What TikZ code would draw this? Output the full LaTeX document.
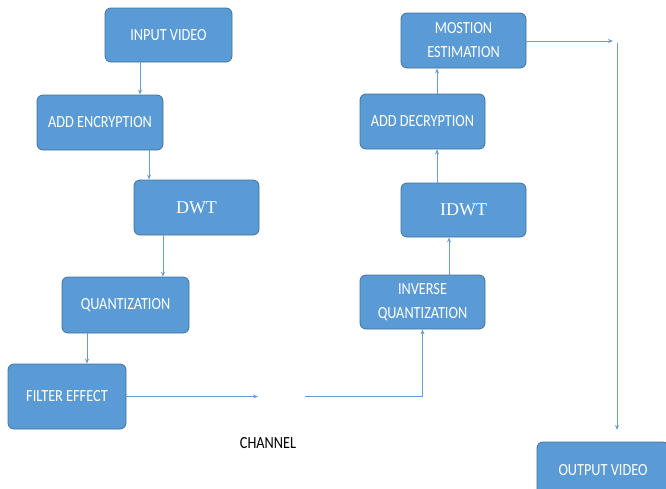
\documentclass[tikz,border=0pt]{standalone}
\usepackage{fontspec}
\setmainfont{Carlito}
\newfontfamily\serifblock{Liberation Serif}
\usetikzlibrary{arrows.meta}
\definecolor{boxfill}{RGB}{91,155,213}
\definecolor{boxline}{RGB}{65,113,156}
\definecolor{arrowcol}{RGB}{110,155,200}
\newcommand{\sq}[1]{\scalebox{0.84}[1]{#1}}
\tikzset{
  block/.style={draw=boxline, line width=0.8pt, fill=boxfill, rounded corners=6pt,
    text=white, align=center, inner sep=0pt, font=\fontsize{17}{24}\selectfont},
  flow/.style={draw=arrowcol, line width=0.9pt, -{Stealth[length=5pt,width=4pt]}},
  plain/.style={draw=arrowcol, line width=0.9pt}
}
\begin{document}
\begin{tikzpicture}[x=1pt,y=-1pt]
\useasboundingbox (0,0) rectangle (666,488);
\node[block, minimum width=127, minimum height=54] (invid) at (168.5,35) {\sq{INPUT VIDEO}};
\node[block, minimum width=126, minimum height=55] (addenc) at (100,122.5) {\sq{ADD ENCRYPTION}};
\node[block, minimum width=125, minimum height=55, font=\serifblock\fontsize{18}{20}\selectfont] (dwt) at (196.5,207.5) {DWT};
\node[block, minimum width=127, minimum height=56] (quant) at (125.5,305) {\sq{QUANTIZATION}};
\node[block, minimum width=118, minimum height=65] (filter) at (67,396.5) {\sq{FILTER EFFECT}};
\node[block, minimum width=125, minimum height=54] (invq) at (422.5,302) {\sq{INVERSE}\\\sq{QUANTIZATION}};
\node[block, minimum width=125, minimum height=54, font=\serifblock\fontsize{18}{20}\selectfont] (idwt) at (463.5,210) {IDWT};
\node[block, minimum width=125, minimum height=55] (adddec) at (422.5,121.5) {\sq{ADD DECRYPTION}};
\node[block, minimum width=125, minimum height=55] (mest) at (463.5,40.5) {\sq{MOSTION}\\\sq{ESTIMATION}};
\node[block, minimum width=132, minimum height=56] (outvid) at (603,470) {\sq{OUTPUT VIDEO}};
\node[font=\fontsize{17}{20}\selectfont, text=black] (channel) at (268,443) {\sq{CHANNEL}};

\coordinate (chin) at (258,396.5);
\coordinate (chout) at (305,396.5);
\coordinate (rtop) at (613,41);
\coordinate (vtop) at (617,43);
\coordinate (vbot) at (617,430);

\draw[flow] (invid.south -| 140,0) -- (addenc.north -| 140,0);
\draw[flow] (addenc.south -| 149,0) -- (dwt.north -| 149,0);
\draw[flow] (dwt.south -| 163,0) -- (quant.north -| 163,0);
\draw[flow] (quant.south -| 87,0) -- (filter.north -| 87,0);
\draw[flow] (filter.east) -- (chin);
\draw[flow] (chout) -| (invq.south);
\draw[flow] (invq.north -| 449,0) -- (idwt.south -| 449,0);
\draw[flow] (idwt.north -| 437,0) -- (adddec.south -| 437,0);
\draw[flow] (adddec.north -| 437,0) -- (mest.south -| 437,0);
\draw[flow] (mest.east |- rtop) -- (rtop);
\draw[flow] (vtop) -- (vbot);
\end{tikzpicture}
\end{document}
